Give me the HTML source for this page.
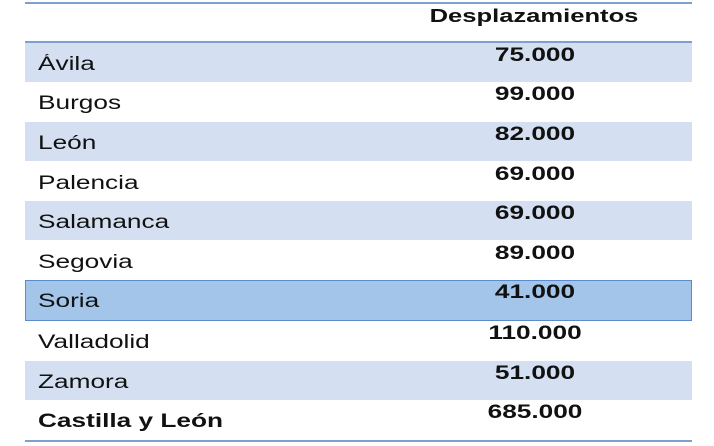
<!DOCTYPE html>
<html><head><meta charset="utf-8"><style>
body{margin:0;width:714px;height:446px;background:#fff;font-family:"Liberation Sans",Arial,sans-serif;position:relative;overflow:hidden}
.line{position:absolute;left:25px;width:667px;height:2px;background:#7f9fd0}
.row{position:absolute;left:25px;width:667px;height:39px;box-sizing:border-box}
.lab{position:absolute;left:13px;top:11px;font-size:19px;color:#111;transform:scaleX(1.38);transform-origin:0 0;white-space:nowrap}
.num{position:absolute;left:510px;width:0;top:2px;font-size:19px;font-weight:bold;color:#111}
.num span{position:absolute;transform:translateX(-50%) scaleX(1.38);white-space:nowrap}
.alt{background:#d4e0f1}
.sel{background:#a2c5e9;border:1px solid #5b8bc9}
</style></head><body>
<div class="line" style="top:2px"></div>
<div style="position:absolute;left:534px;top:6px;transform:translateX(-50%) scaleX(1.42);font-size:18px;font-weight:bold;color:#111;white-space:nowrap">Desplazamientos</div>
<div class="line" style="top:41px"></div>
<div class="row alt" style="top:43px"><div class="lab">Ávila</div><div class="num"><span>75.000</span></div></div>
<div class="row" style="top:82px"><div class="lab">Burgos</div><div class="num"><span>99.000</span></div></div>
<div class="row alt" style="top:122px"><div class="lab">León</div><div class="num"><span>82.000</span></div></div>
<div class="row" style="top:162px"><div class="lab">Palencia</div><div class="num"><span>69.000</span></div></div>
<div class="row alt" style="top:201px"><div class="lab">Salamanca</div><div class="num"><span>69.000</span></div></div>
<div class="row" style="top:241px"><div class="lab">Segovia</div><div class="num"><span>89.000</span></div></div>
<div class="row sel" style="top:280px;height:41px"><div class="lab" style="left:12px;top:10px">Soria</div><div class="num" style="left:509px;top:1px"><span>41.000</span></div></div>
<div class="row" style="top:321px"><div class="lab">Valladolid</div><div class="num"><span>110.000</span></div></div>
<div class="row alt" style="top:361px"><div class="lab">Zamora</div><div class="num"><span>51.000</span></div></div>
<div class="row" style="top:400px"><div class="lab" style="font-weight:bold">Castilla y León</div><div class="num"><span>685.000</span></div></div>
<div class="line" style="top:440px"></div>
</body></html>
